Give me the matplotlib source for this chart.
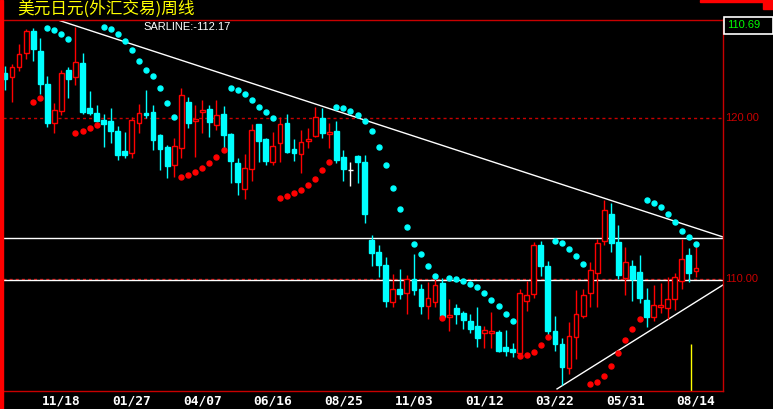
import matplotlib.pyplot as plt
from matplotlib.patches import Rectangle

# USD/JPY weekly candles, oldest first
opens = [122.80, 122.55, 123.17, 124.04, 125.40, 124.16, 122.11, 119.69, 120.44, 122.98,
         122.55, 123.42, 120.62, 120.31, 119.88, 119.81, 119.19, 117.95, 117.83, 119.69,
         120.31, 120.37, 118.95, 118.20, 117.08, 118.14, 120.99, 119.81, 120.37, 120.56,
         119.57, 120.25, 119.01, 117.21, 115.59, 116.83, 119.63, 118.70, 117.27, 118.45,
         119.69, 118.08, 117.76, 118.57, 118.88, 120.00, 119.01, 119.19, 117.58, 116.77,
         117.64, 117.27, 112.42, 111.68, 110.87, 108.57, 109.38, 109.13, 110.00, 109.38,
         108.32, 108.57, 109.75, 107.64, 108.20, 107.89, 107.39, 107.08, 106.65, 106.65,
         106.71, 105.78, 105.65, 105.41, 108.64, 109.07, 112.11, 110.81, 106.77, 105.96,
         104.47, 106.40, 107.70, 109.13, 110.37, 112.36, 114.04, 112.30, 110.06, 110.81,
         110.44, 108.70, 107.64, 108.26, 108.20, 108.76, 109.88, 111.49, 110.50]
highs = [123.23, 123.36, 124.60, 125.53, 125.59, 124.97, 122.61, 120.93, 122.98, 123.17,
         125.65, 124.04, 121.68, 120.81, 120.25, 120.62, 119.50, 119.13, 120.06, 120.87,
         121.74, 120.81, 119.01, 118.32, 118.76, 121.86, 121.31, 120.81, 121.12, 120.81,
         121.12, 120.75, 119.07, 117.52, 117.76, 119.63, 119.63, 118.76, 119.13, 120.06,
         120.25, 118.70, 119.26, 119.38, 120.68, 120.62, 119.69, 119.81, 118.01, 117.27,
         117.70, 117.70, 112.73, 112.11, 111.37, 110.31, 110.62, 110.25, 111.55, 109.69,
         109.82, 110.06, 110.06, 108.76, 108.45, 108.01, 107.83, 108.26, 107.08, 107.95,
         106.83, 106.83, 106.03, 109.38, 109.88, 112.30, 112.36, 111.12, 107.70, 106.34,
         107.33, 109.32, 109.38, 111.06, 112.49, 114.91, 114.72, 113.36, 111.99, 111.18,
         111.49, 109.44, 109.63, 109.75, 110.13, 110.37, 112.49, 111.93, 112.18]
lows = [121.74, 120.99, 122.92, 123.67, 123.54, 121.49, 119.44, 119.07, 120.19, 121.24,
        122.05, 120.25, 120.19, 119.75, 118.20, 118.45, 117.39, 117.52, 117.52, 119.07,
        120.00, 118.01, 116.77, 116.27, 116.34, 117.52, 119.38, 117.58, 119.07, 118.82,
        119.26, 118.01, 115.96, 115.22, 114.97, 116.09, 117.27, 117.08, 117.08, 117.27,
        117.83, 117.33, 116.59, 118.14, 118.82, 118.76, 118.14, 117.21, 116.09, 115.78,
        115.96, 113.48, 110.81, 110.13, 108.26, 108.26, 108.76, 107.83, 109.01, 107.83,
        107.52, 108.26, 107.58, 106.77, 107.21, 106.90, 106.65, 105.78, 105.72, 105.72,
        105.47, 105.22, 105.16, 105.41, 108.01, 108.82, 110.19, 106.46, 105.53, 103.42,
        104.10, 105.03, 107.58, 108.26, 108.26, 112.11, 111.68, 110.00, 109.01, 108.64,
        108.51, 107.02, 107.39, 107.89, 107.52, 108.08, 109.38, 109.82, 110.13]
closes = [122.42, 123.17, 123.98, 125.40, 124.29, 122.11, 119.69, 120.50, 122.80, 122.42,
          123.48, 120.37, 120.31, 119.81, 119.63, 119.19, 117.70, 117.70, 119.88, 120.31,
          120.19, 118.63, 118.08, 117.02, 118.26, 121.43, 119.69, 119.94, 120.50, 119.75,
          120.19, 118.95, 117.33, 116.03, 116.90, 119.26, 118.57, 117.33, 118.26, 119.63,
          117.89, 117.83, 118.51, 118.70, 120.06, 119.07, 119.13, 117.39, 116.83, 116.77,
          117.27, 114.04, 111.62, 110.87, 108.64, 109.38, 109.07, 110.00, 109.32, 108.32,
          108.82, 109.63, 107.64, 107.77, 107.83, 107.46, 106.90, 106.34, 106.83, 106.77,
          105.53, 105.53, 105.47, 109.13, 109.01, 112.11, 110.81, 106.77, 105.96, 104.54,
          106.46, 107.83, 109.01, 110.56, 112.24, 114.29, 112.24, 110.25, 111.06, 110.00,
          108.82, 107.64, 108.39, 108.39, 108.76, 110.13, 111.24, 110.37, 110.69]

# parabolic SAR dots (None = not yet computed)
sar = [None, None, None, None, 120.99, 121.24, 125.59, 125.47, 125.22, 124.91,
       119.07, 119.19, 119.38, 119.57, 125.65, 125.53, 125.22, 124.78, 124.22, 123.54,
       122.98, 122.61, 121.86, 120.93, 120.06, 116.34, 116.46, 116.65, 116.90, 117.21,
       117.58, 118.01, 121.86, 121.74, 121.49, 121.12, 120.68, 120.37, 120.00, 115.03,
       115.16, 115.34, 115.53, 115.84, 116.21, 116.77, 117.27, 120.68, 120.62, 120.44,
       120.19, 119.81, 119.19, 118.20, 117.08, 115.65, 114.35, 113.23, 112.18, 111.55,
       110.81, 110.19, 107.58, 110.06, 110.00, 109.88, 109.69, 109.50, 109.13, 108.70,
       108.32, 107.83, 107.39, 105.22, 105.28, 105.47, 105.90, 106.40, 112.36, 112.24,
       111.87, 111.43, 110.93, 103.48, 103.60, 103.98, 104.60, 105.41, 106.21, 106.90,
       107.52, 114.91, 114.72, 114.47, 114.04, 113.54, 112.98, 112.61, 112.18]

date_labels = ['11/18', '01/27', '04/07', '06/16', '08/25', '11/03', '01/12', '03/22', '05/31', '08/14']
date_idx = [8, 18, 28, 38, 48, 58, 68, 78, 88, 98]

# hand drawn lines on the chart
upper_trend = ([7.5, 101.84], [126.09, 112.61])
lower_trend = ([78.3, 101.84], [103.17, 109.63])
hlines_white = [112.55, 109.94]
price_marks = [120.0, 110.0]
cursor_x, cursor_top = 97.3, 105.96

RED = '#ff0000'
DKRED = '#c80000'
CYAN = '#00ffff'

W, H = 773, 409
fig = plt.figure(figsize=(W / 100, H / 100), dpi=100, facecolor='black')
ax = fig.add_axes([3 / W, 1 - 391 / H, 720 / W, (391 - 19.5) / H], facecolor='black')
ax.set_xlim(-0.28, 101.84)
ax.set_ylim(103.04, 126.12)

bw = 0.68
for i in range(len(opens)):
    o, h, l, c = opens[i], highs[i], lows[i], closes[i]
    if c == o:
        col = 'white'
        ax.vlines(i, l, h, color=col, lw=1)
        ax.hlines(o, i - bw / 2, i + bw / 2, color=col, lw=1)
        continue
    col = RED if c > o else CYAN
    ax.vlines(i, l, h, color=col, lw=1, zorder=2)
    face = 'black' if c > o else CYAN
    ax.add_patch(Rectangle((i - bw / 2, min(o, c)), bw, max(abs(c - o), 0.03),
                           facecolor=face, edgecolor=col, lw=1, zorder=3))

# SAR dots: cyan above price, red below
for i, s in enumerate(sar):
    if s is None:
        continue
    col = CYAN if s > closes[i] else RED
    ax.plot(i, s, 'o', color=col, ms=3.6, mec=col, zorder=4)

for p in price_marks:
    ax.axhline(p, color=DKRED, lw=1, ls=(0, (2.2, 2.2)), zorder=1)
for p in hlines_white:
    ax.axhline(p, color='white', lw=1, zorder=1)

ax.plot(upper_trend[0], upper_trend[1], color='white', lw=1, zorder=1)
ax.plot(lower_trend[0], lower_trend[1], color='white', lw=1, zorder=1)
ax.vlines(cursor_x, 103.04, cursor_top, color='#ffff00', lw=1)

ax.set_xticks([])
ax.set_yticks([])
ax.spines['left'].set_visible(False)
ax.spines['right'].set_color(DKRED)
ax.spines['bottom'].set_color(DKRED)
ax.spines['top'].set_color(DKRED)
ax.spines['top'].set_linestyle((0, (1, 1)))
for s in ax.spines.values():
    s.set_linewidth(1)

# price labels on the right
ytr = ax.get_yaxis_transform()
for p in price_marks:
    ax.text(1.003, p, '%.2f' % p, transform=ytr, color=DKRED, fontsize=8,
            family='Liberation Sans', va='center', ha='left', clip_on=False)

# date labels
xtr = ax.get_xaxis_transform()
for i, lab in zip(date_idx, date_labels):
    ax.text(i, -0.028, lab, transform=xtr, color='white', fontsize=9.3,
            family='DejaVu Sans Mono', weight='bold', ha='center', va='center')

# window decorations
fig.patches.append(Rectangle((0, 0), 3 / W, 1, transform=fig.transFigure,
                             color=RED, zorder=5))
fig.patches.append(Rectangle((700 / W, 1 - 2 / H), 73 / W, 2 / H, transform=fig.transFigure,
                             color=RED, zorder=5))
fig.patches.append(Rectangle((763 / W, 1 - 9 / H), 10 / W, 9 / H, transform=fig.transFigure,
                             color=RED, zorder=5))
fig.patches.append(Rectangle((723.5 / W, 1 - 34 / H), 49 / W, 17 / H, transform=fig.transFigure,
                             facecolor='black', edgecolor='white', lw=1.2, zorder=5))
fig.text(727 / W, 1 - 25.5 / H, '%.2f' % closes[-1], color='#00ff00', fontsize=8,
         family='Liberation Sans', va='center', zorder=6)

fig.text(17 / W, 1 - 9 / H, '美元日元(外汇交易)周线', color='#ffff00', fontsize=12,
         family=['Noto Sans CJK SC', 'DejaVu Sans'], va='center')
fig.text(143 / W, 1 - 26.5 / H, 'SARLINE:-%.2f' % 112.17, color='white', fontsize=8,
         family='Liberation Sans', va='center')

fig.savefig('out.png', dpi=100, facecolor='black')
